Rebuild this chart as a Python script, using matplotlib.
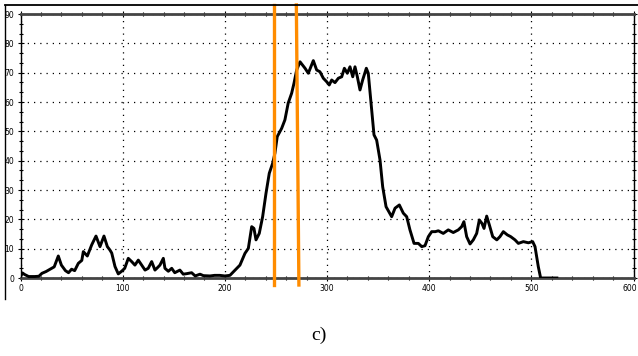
import matplotlib
matplotlib.use("Agg")
import matplotlib.pyplot as plt
from matplotlib.ticker import MultipleLocator
from matplotlib.lines import Line2D
from matplotlib.transforms import ScaledTranslation

# ---- data ----
x_vals = [0, 2, 4, 8, 14, 18, 21, 25, 29, 33, 37, 40, 44, 47, 50, 53, 56.6, 60, 61.5, 65.4,
          69.7, 73.9, 77.8, 81.7, 85, 87.6, 89.3, 92.5, 95.7, 99, 102, 105.5, 108.8, 112,
          115.3, 118.6, 121.9, 125, 128.4, 131.6, 134, 136.5, 139.8, 141.4, 144.7, 148, 151,
          156, 159.3, 163, 167.5, 171, 175.7, 179, 185.5, 190, 195, 200, 205, 210, 214.8,
          219.7, 223, 226.3, 228.5, 230.5, 233.7, 237, 240.3, 243.5, 246.8, 249, 251.3,
          255.6, 258.8, 262, 265.4, 267.7, 270.3, 273.6, 278.5, 281.7, 286.6, 289.9, 293.1,
          296.4, 299.7, 302.2, 304.6, 307.8, 311.1, 314.4, 317, 319.9, 322.5, 325.2, 327.4,
          329.7, 332.3, 334.9, 338.5, 340.4, 343.7, 346, 348.6, 351.9, 354.5, 357.8, 363.3,
          366.6, 370.8, 374.7, 378, 381.2, 385.2, 389.4, 392.7, 395.9, 399.2, 402.5, 406,
          409, 413.8, 418.7, 423.6, 428.5, 431.8, 434, 436.7, 440, 443.2, 446.5, 449.1,
          451.7, 453.7, 456.3, 458.9, 462.2, 466.2, 469.3, 472.6, 476.5, 479.8, 484, 487.3,
          492.2, 497.1, 501.3, 503.6, 506.8, 509.1, 514, 518.3, 525]
y_vals = [0.5, 1.7, 1.2, 0.5, 0.5, 0.6, 1.6, 2.2, 3.0, 3.8, 7.5, 4.4, 2.5, 1.8, 3.0, 2.5, 5.0, 6.0, 9.0, 7.5,
          11.3, 14.3, 10.7, 14.3, 10.7, 9.5, 8.5, 3.9, 1.4, 2.3, 3.3, 6.7, 5.6, 4.4,
          6.1, 4.4, 2.7, 3.3, 5.6, 2.7, 3.5, 4.4, 6.7, 3.3, 2.3, 3.3, 1.8,
          2.7, 1.3, 1.5, 1.8, 0.7, 1.3, 0.8, 0.7, 0.9, 0.9, 0.7, 0.9, 2.7, 4.4,
          8.4, 10.1, 17.5, 16.9, 13.0, 15.2, 20.9, 28.9, 35.7, 39.1, 42.5, 48.2,
          51.0, 53.9, 59.6, 63.0, 66.4, 70.9, 73.7, 71.5, 69.8, 74.1, 70.9, 70.3,
          68.1, 66.9, 65.8, 67.5, 66.6, 68.1, 68.6, 71.5, 69.8, 72.0, 68.6, 72.0,
          68.6, 64.1, 67.5, 71.5, 69.8, 57.3, 48.8, 47.0, 40.2, 31.1, 24.3, 20.9,
          23.8, 24.9, 22.1, 20.9, 16.4, 11.8, 11.8, 10.7, 11.0, 14.1, 15.8, 15.8,
          16.1, 15.2, 16.4, 15.5, 16.4, 17.5, 19.2, 14.1, 11.6, 13.0, 15.2, 19.8,
          18.6, 16.9, 21.1, 18.1, 14.1, 13.0, 14.1, 15.8, 14.7, 14.1, 13.0, 11.8,
          12.4, 12.0, 12.4, 10.7, 3.9, 0.0, 0.0, 0.0, 0.0]

marker_top = [248, 270]       # orange markers, x at top
marker_bottom = [248, 272.5]  # orange markers, x at bottom

x_ticks = [0, 100, 200, 300, 400, 500, 600]
y_ticks = [0, 10, 20, 30, 40, 50, 60, 70, 80, 90]
caption = "c)"

W, H = 638, 356
fig = plt.figure(figsize=(W / 100, H / 100), dpi=100)
ax = fig.add_axes([20.5 / W, 1 - 278 / H, 613 / W, 264 / H])

ax.plot(x_vals, y_vals, color="black", lw=2.1, solid_joinstyle="round", zorder=3)

ax.set_xlim(0, 600)
ax.set_ylim(0, 90)
ax.set_xticks(x_ticks)
ax.set_yticks(y_ticks)
ax.xaxis.set_minor_locator(MultipleLocator(20))
ax.yaxis.set_minor_locator(MultipleLocator(10 / 3))
lab_font = dict(family=["Liberation Sans Narrow", "DejaVu Sans"], size=5.5)
ax.set_xticklabels([str(v) for v in x_ticks], **lab_font)
ax.set_yticklabels([str(v) for v in y_ticks], **lab_font)
ax.tick_params(which="both", direction="inout", top=True, right=True, color="black", width=0.8)
ax.tick_params(which="major", length=5, pad=2)
ax.tick_params(which="minor", length=3.5)
ax.grid(True, which="major", color="black", linestyle=(0, (1, 4)), linewidth=0.9)

# keep the last x label inside the figure
last = ax.get_xticklabels()[-1]
last.set_transform(last.get_transform() + ScaledTranslation(-4 / 100, 0, fig.dpi_scale_trans))

for s in ["top", "bottom"]:
    ax.spines[s].set_linewidth(2.0)
    ax.spines[s].set_color("#444444")
for s in ["left", "right"]:
    ax.spines[s].set_linewidth(1.0)
    ax.spines[s].set_color("black")

# orange markers, extending beyond the plot area
y_hi = (278 - 5) / (264 / 90)
y_lo = -(285 - 278) / (264 / 90)
for xt, xb in zip(marker_top, marker_bottom):
    ax.plot([xt, xb], [y_hi, y_lo], color="#ff8c00", lw=2.4, clip_on=False, zorder=4)

# outer frame lines
fig.add_artist(Line2D([5 / W, 1], [1 - 5 / H, 1 - 5 / H], color="black", lw=1.3,
                      transform=fig.transFigure))
fig.add_artist(Line2D([5 / W, 5 / W], [1 - 5 / H, 1 - 299 / H], color="black", lw=1.0,
                      transform=fig.transFigure))

fig.text(319 / W, 1 - 335 / H, caption, ha="center", va="center",
         family=["Liberation Serif", "DejaVu Serif"], fontsize=14)

fig.savefig("out.png", dpi=100)
